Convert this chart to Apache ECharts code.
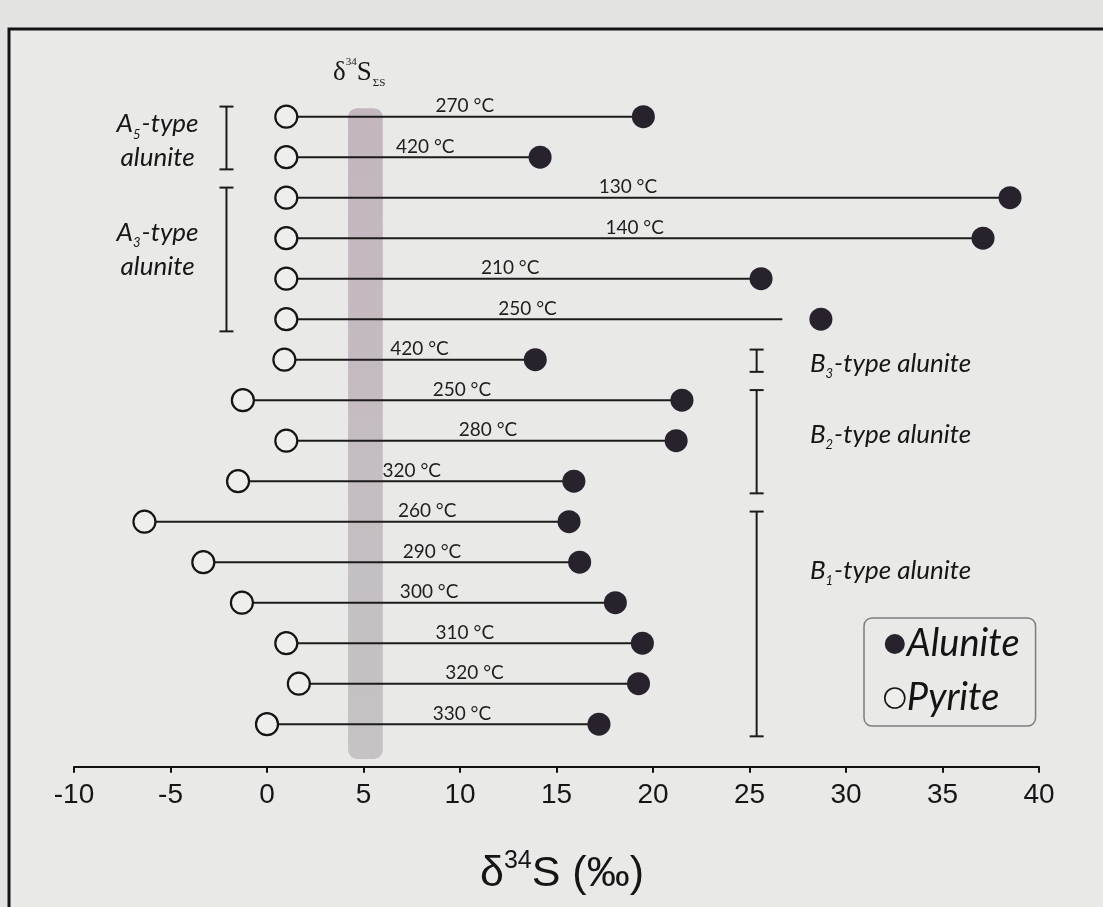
<!DOCTYPE html>
<html><head><meta charset="utf-8">
<script src="https://cdn.jsdelivr.net/npm/echarts@6/dist/echarts.min.js"></script>
<style>html,body{margin:0;padding:0;background:#e3e4e2}#c{width:1103px;height:907px}</style>
</head><body><div id="c"></div>
<script>
// ---- data (δ34S ‰) ----
const temperatures = ['270 °C','420 °C','130 °C','140 °C','210 °C','250 °C','420 °C','250 °C','280 °C','320 °C','260 °C','290 °C','300 °C','310 °C','320 °C','330 °C'];
const pyrite  = [1.0, 1.0, 1.0, 1.0, 1.0, 1.0, 0.9, -1.25, 1.0, -1.5, -6.35, -3.3, -1.3, 1.0, 1.65, 0.0];
const alunite = [19.5, 14.15, 38.5, 37.1, 25.6, 28.7, 13.9, 21.5, 21.2, 15.9, 15.65, 16.2, 18.05, 19.45, 19.25, 17.2];
const tieEnd  = [19.5, 14.15, 38.5, 37.1, 25.6, 26.7, 13.9, 21.5, 21.2, 15.9, 15.65, 16.2, 18.05, 19.45, 19.25, 17.2];
const labelAt = [10.25, 8.2, 18.7, 19.05, 12.6, 13.5, 7.9, 10.1, 11.45, 7.5, 8.3, 8.55, 8.4, 10.25, 10.75, 10.1];
const bandRange = [4.2, 6.0];           // δ34S ΣS range
const xTickLabels = ['-10','-5','0','5','10','15','20','25','30','35','40'];
const groupLetter = ['A','A','B','B','B'];
const groupIndex  = ['5','3','3','2','1'];
const groupFirst  = [0, 2, 6, 7, 10];
const groupLast   = [1, 5, 6, 9, 15];
const groupLabelRow = [0.6, 3.27, 6.1, 7.84, 11.2];

const chart = echarts.init(document.getElementById('c'), null, {renderer:'canvas'});
const FONT = 'Lato';
const ink = '#1b1b1b';

const rows = temperatures.map((t, i) => i);

const option = {
  backgroundColor: '#e3e4e2',
  animation: false,
  grid: {left: 74, right: 64, top: 74.2, bottom: 140.3, containLabel: false},
  xAxis: {
    type: 'value', min: -10, max: 40, interval: 5, position: 'bottom',
    axisLine: {show: true, onZero: false, lineStyle: {color: '#111', width: 2}},
    axisTick: {show: true, length: 6, lineStyle: {color: '#111', width: 2}},
    splitLine: {show: false},
    axisLabel: {
      margin: 15, fontSize: 28, fontFamily: 'Liberation Sans', color: '#161616',
      formatter: v => xTickLabels[Math.round((v + 10) / 5)]
    },
    name: '{d|δ}{sup|34}{d|S (‰)}',
    nameLocation: 'middle', nameGap: 82,
    nameTextStyle: {
      padding: [0, 0, 0, 11],
      rich: {
        d: {fontSize: 43, fontFamily: 'Liberation Sans', color: '#151515', lineHeight: 50},
        sup: {fontSize: 25, fontFamily: 'Liberation Sans', color: '#151515', lineHeight: 50, verticalAlign: 'top', padding: [0,0,22,0]}
      }
    }
  },
  yAxis: {type: 'value', inverse: true, min: -1.05, max: 16.05, show: false},
  legend: {
    orient: 'vertical', left: 864, top: 618,
    itemWidth: 20, itemHeight: 20, itemGap: 16,
    padding: [7, 16, 9, 20],
    borderColor: '#7d7d7d', borderWidth: 1.5, borderRadius: 8,
    textStyle: {fontSize: 38, fontStyle: 'italic', fontFamily: FONT, color: '#141414', padding: [0, 0, 0, -3]},
    data: [{name: 'Alunite'}, {name: 'Pyrite', itemStyle: {borderWidth: 1.6}}]
  },
  graphic: [
    {type: 'rect', z: -10, silent: true, shape: {x: 9, y: 29, width: 1200, height: 1000},
     style: {fill: '#e9eae8', stroke: '#141414', lineWidth: 3}},
    {type: 'text', left: 333, top: 57, z: 10,
     style: {
       text: '{d|δ}{sup|34}{d|S}{sub|ΣS}',
       rich: {
         d: {fontSize: 27, fontFamily: 'Liberation Serif', fill: '#161616', lineHeight: 32},
         sup: {fontSize: 11, fontFamily: 'Liberation Serif', fill: '#161616', lineHeight: 32, verticalAlign: 'top', padding: [0,0,14,0]},
         sub: {fontSize: 11, fontFamily: 'Liberation Serif', fill: '#161616', lineHeight: 32, verticalAlign: 'bottom', padding: [8,0,0,1]}
       }
     }}
  ],
  series: [
    {
      type: 'custom', name: 'band', z: 1, silent: true,
      data: [[bandRange[0], bandRange[1]]],
      renderItem(params, api) {
        const a = api.coord([api.value(0), -0.21]);
        const b = api.coord([api.value(1), 15.86]);
        return {type: 'rect', shape: {x: a[0], y: a[1], width: b[0] - a[0], height: b[1] - a[1], r: 9},
          style: {fill: new echarts.graphic.LinearGradient(0, 0, 0, 1, [
            {offset: 0, color: '#c3b6be'}, {offset: 1, color: '#c5c3c4'}])}};
      }
    },
    {
      type: 'custom', name: 'ties', z: 2, silent: true,
      data: rows.map(i => [i, pyrite[i], tieEnd[i], labelAt[i]]),
      renderItem(params, api) {
        const i = api.value(0);
        const p0 = api.coord([api.value(1), i]);
        const p1 = api.coord([api.value(2), i]);
        const pl = api.coord([api.value(3), i]);
        return {type: 'group', children: [
          {type: 'line', shape: {x1: p0[0], y1: p0[1], x2: p1[0], y2: p1[1]}, style: {stroke: ink, lineWidth: 2}},
          {type: 'text', x: pl[0], y: p0[1] - 1,
           style: {text: temperatures[i], fontSize: 19, fontFamily: FONT, fill: '#1e1e1e', align: 'center', verticalAlign: 'bottom'}}
        ]};
      }
    },
    {
      type: 'custom', name: 'groups', z: 2, silent: true,
      data: groupLetter.map((g, k) => [k]),
      renderItem(params, api) {
        const k = params.dataIndex;
        const isLeft = groupLetter[k] === 'A';
        const bx = isLeft ? -2.1 : 25.37;
        const t = api.coord([bx, groupFirst[k] - 0.25]);
        const b = api.coord([bx, groupLast[k] + 0.3]);
        const w = 7;
        const st = {stroke: ink, lineWidth: 2};
        const rich = {
          m: {fontSize: 26, fontStyle: 'italic', fontFamily: FONT, fill: '#161616', lineHeight: 34},
          s: {fontSize: 13, fontStyle: 'italic', fontFamily: FONT, fill: '#161616', lineHeight: 34, verticalAlign: 'bottom', padding: [0, 1, 0, 0]}
        };
        const txt = isLeft
          ? '{m|' + groupLetter[k] + '}{s|' + groupIndex[k] + '}{m|-type}\n{m|alunite}'
          : '{m|' + groupLetter[k] + '}{s|' + groupIndex[k] + '}{m|-type alunite}';
        const lp = api.coord([isLeft ? -5.67 : 28.13, groupLabelRow[k]]);
        return {type: 'group', children: [
          {type: 'line', shape: {x1: t[0], y1: t[1], x2: b[0], y2: b[1]}, style: st},
          {type: 'line', shape: {x1: t[0] - w, y1: t[1], x2: t[0] + w, y2: t[1]}, style: st},
          {type: 'line', shape: {x1: b[0] - w, y1: b[1], x2: b[0] + w, y2: b[1]}, style: st},
          {type: 'text', x: lp[0], y: lp[1],
           style: {text: txt, rich: rich, align: isLeft ? 'center' : 'left', verticalAlign: 'middle'}}
        ]};
      }
    },
    {
      type: 'scatter', name: 'Pyrite', z: 3, symbol: 'circle', symbolSize: 22,
      itemStyle: {color: '#eeefed', borderColor: '#141414', borderWidth: 2.2, opacity: 1},
      data: rows.map(i => [pyrite[i], i])
    },
    {
      type: 'scatter', name: 'Alunite', z: 3, symbol: 'circle', symbolSize: 23,
      itemStyle: {color: '#28222d', opacity: 1},
      data: rows.map(i => [alunite[i], i])
    }
  ]
};
chart.setOption(option);
</script>
</body></html>
